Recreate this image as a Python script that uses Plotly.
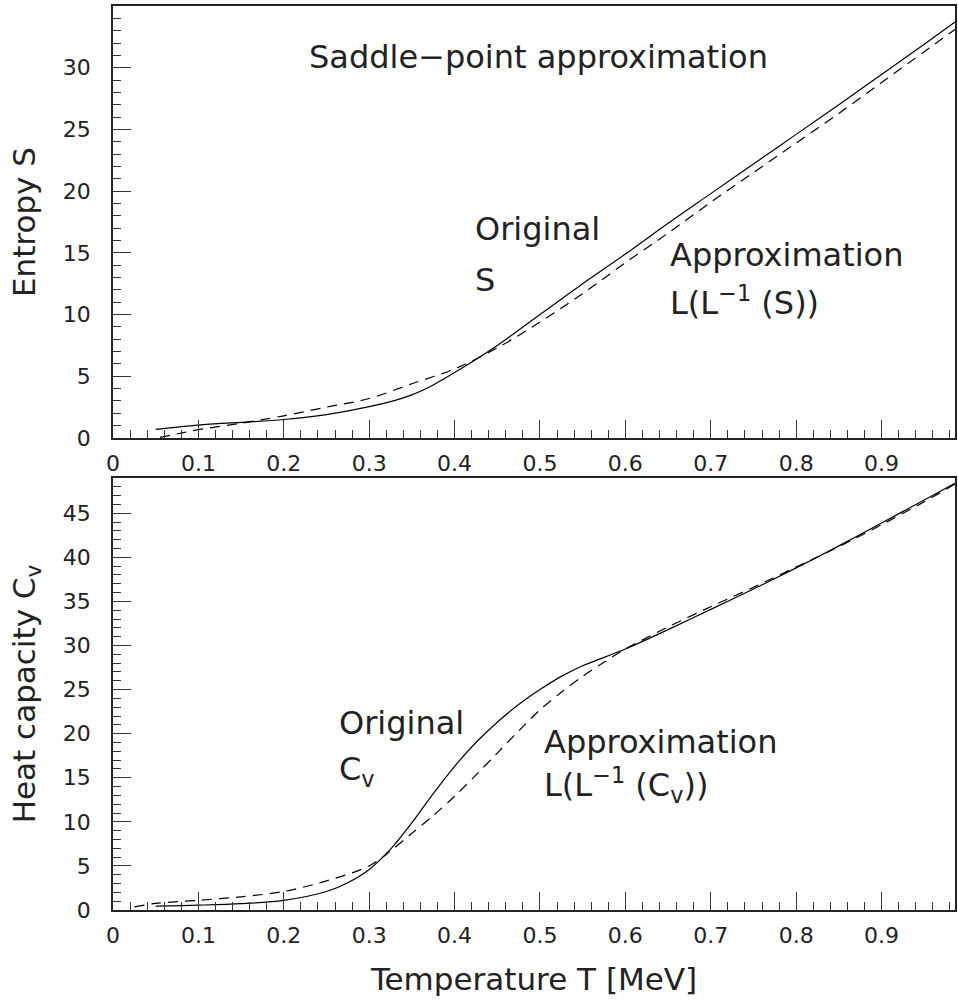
import plotly.graph_objects as go

# ---- data ----
T_S_orig = [0.05, 0.10, 0.15, 0.20, 0.25, 0.30, 0.325, 0.35, 0.375, 0.40, 0.45, 0.50, 0.55,
            0.60, 0.65, 0.70, 0.75, 0.80, 0.85, 0.90, 0.95, 0.986]
S_orig = [0.70, 1.05, 1.27, 1.50, 1.90, 2.55, 2.95, 3.50, 4.30, 5.30, 7.50, 10.0, 12.5,
          14.9, 17.4, 19.8, 22.2, 24.6, 27.0, 29.45, 31.9, 33.7]

T_S_appr = [0.055, 0.08, 0.10, 0.15, 0.20, 0.25, 0.30, 0.35, 0.40, 0.45, 0.50, 0.55,
            0.60, 0.65, 0.70, 0.75, 0.80, 0.85, 0.90, 0.95, 0.986]
S_appr = [0.05, 0.40, 0.68, 1.20, 1.80, 2.50, 3.20, 4.40, 5.60, 7.30, 9.40, 11.7,
          14.2, 16.6, 19.1, 21.5, 23.9, 26.3, 28.8, 31.3, 33.1]

T_C_orig = [0.05, 0.10, 0.15, 0.20, 0.25, 0.275, 0.30, 0.325, 0.35, 0.375, 0.40, 0.425,
            0.45, 0.475, 0.50, 0.525, 0.55, 0.60, 0.65, 0.70, 0.75, 0.80, 0.85, 0.90,
            0.95, 0.986]
C_orig = [0.45, 0.55, 0.72, 1.10, 2.10, 3.10, 4.60, 6.90, 9.90, 13.2, 16.3, 19.0,
          21.3, 23.3, 25.0, 26.5, 27.7, 29.6, 31.8, 34.1, 36.4, 38.8, 41.3, 43.9,
          46.5, 48.4]

T_C_appr = [0.025, 0.05, 0.10, 0.15, 0.20, 0.25, 0.30, 0.325, 0.35, 0.375, 0.40, 0.425,
            0.45, 0.475, 0.50, 0.525, 0.55, 0.575, 0.60, 0.65, 0.70, 0.75, 0.80, 0.85,
            0.90, 0.95, 0.986]
C_appr = [0.35, 0.75, 1.10, 1.50, 2.10, 3.30, 5.00, 6.70, 8.70, 10.7, 12.9, 15.3,
          17.8, 20.3, 22.7, 24.7, 26.5, 28.1, 29.6, 32.1, 34.4, 36.6, 38.9, 41.2,
          43.7, 46.3, 48.3]

x_ticks = [0, 0.1, 0.2, 0.3, 0.4, 0.5, 0.6, 0.7, 0.8, 0.9]
x_ticklabels = ["0", "0.1", "0.2", "0.3", "0.4", "0.5", "0.6", "0.7", "0.8", "0.9"]

# ---- styling ----
FONT = "DejaVu Sans"
INK = "#222222"
solid = dict(color="black", width=1.2, shape="spline", smoothing=0.9)
dashed = dict(color="black", width=1.2, dash="10px,7px", shape="spline", smoothing=0.9)

fig = go.Figure()
fig.add_trace(go.Scatter(x=T_S_orig, y=S_orig, mode="lines", line=solid, xaxis="x", yaxis="y"))
fig.add_trace(go.Scatter(x=T_S_appr, y=S_appr, mode="lines", line=dashed, xaxis="x", yaxis="y"))
fig.add_trace(go.Scatter(x=T_C_orig, y=C_orig, mode="lines", line=solid, xaxis="x2", yaxis="y2"))
fig.add_trace(go.Scatter(x=T_C_appr, y=C_appr, mode="lines", line=dashed, xaxis="x2", yaxis="y2"))

tickfont = dict(family=FONT, size=22, color=INK)
titlefont = dict(family=FONT, size=31, color=INK)

def xax(anchor, title=None):
    d = dict(anchor=anchor, range=[0, 0.986], tickmode="array", tickvals=x_ticks,
             ticktext=x_ticklabels, ticks="inside", ticklen=18, tickwidth=1.2,
             tickcolor="#333", showline=True, linecolor="#222", linewidth=1.6, mirror=True,
             showgrid=False, zeroline=False, tickfont=tickfont, ticklabelstandoff=5,
             minor=dict(dtick=0.02, tick0=0, ticks="inside", ticklen=8, tickwidth=1.1,
                        tickcolor="#333", showgrid=False))
    if title:
        d["title"] = dict(text=title, font=titlefont, standoff=21)
    return d

def yax(anchor, domain, rng, title):
    return dict(anchor=anchor, domain=domain, range=rng, dtick=5, tick0=0,
                ticks="inside", ticklen=18, tickwidth=1.2, tickcolor="#333",
                showline=True, linecolor="#222", linewidth=1.6, mirror=True,
                showgrid=False, zeroline=False, tickfont=tickfont, ticklabelstandoff=16,
                minor=dict(dtick=1, tick0=0, ticks="inside", ticklen=8, tickwidth=1.1,
                           tickcolor="#333", showgrid=False),
                title=dict(text=title, font=titlefont, standoff=18))

fig.update_layout(
    width=958, height=1003,
    margin=dict(l=113, r=1, t=6, b=93),
    paper_bgcolor="white", plot_bgcolor="white",
    showlegend=False,
    xaxis=xax("y"),
    yaxis=yax("x", [0.5221, 1.0], [0, 35.0], "Entropy S"),
    xaxis2=xax("y2", "Temperature T [MeV]"),
    yaxis2=yax("x2", [0.0, 0.4779], [0, 49.0], "Heat capacity C<sub>v</sub>"),
)

lab = dict(family=FONT, size=32, color=INK)

def note(x, y, text, xref, yref):
    fig.add_annotation(x=x, y=y, text=text, xref=xref, yref=yref, showarrow=False,
                       xanchor="left", yanchor="middle", font=lab)

note(0.227, 30.9, "Saddle−point approximation", "x", "y")
note(0.422, 16.9, "Original", "x", "y")
note(0.422, 12.8, "S", "x", "y")
note(0.650, 14.8, "Approximation", "x", "y")
note(0.650, 11.1, "L(L<sup>−1</sup> (S))", "x", "y")

note(0.262, 21.2, "Original", "x2", "y2")
note(0.262, 15.8, "C<sub>v</sub>", "x2", "y2")
note(0.502, 19.0, "Approximation", "x2", "y2")
note(0.502, 14.2, "L(L<sup>−1</sup> (C<sub>v</sub>))", "x2", "y2")

fig.write_html(
    "out.html",
    config={"displayModeBar": False},
    post_script="document.body.style.margin='0';document.body.style.overflow='hidden';",
)
